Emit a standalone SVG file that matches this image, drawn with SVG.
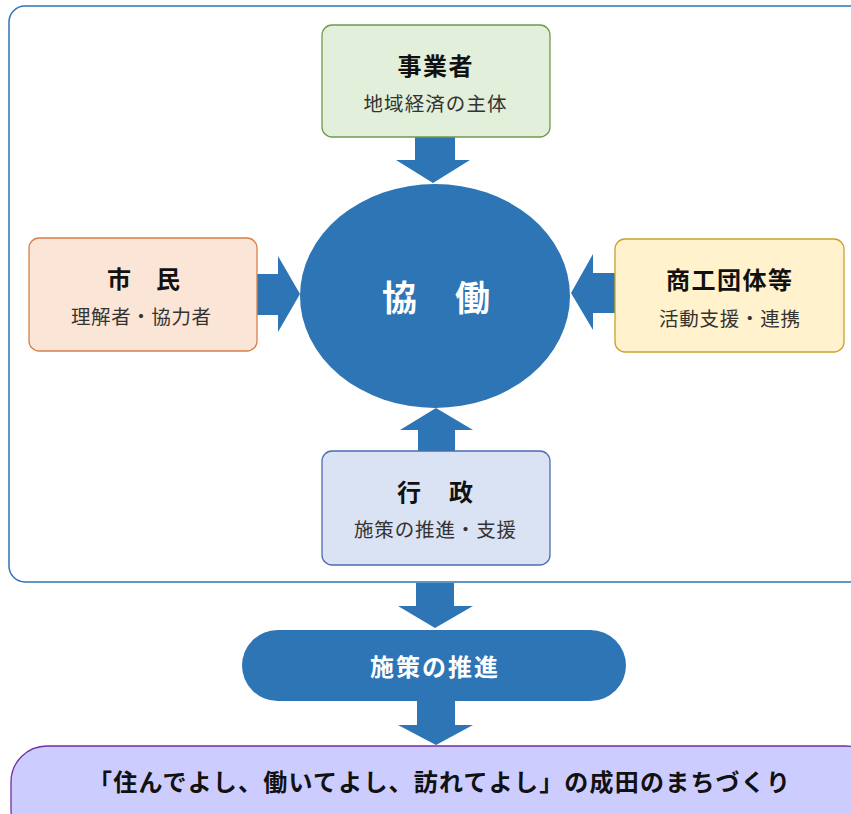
<svg xmlns="http://www.w3.org/2000/svg" width="851" height="814" viewBox="0 0 851 814">
<style>
text{font-family:"Noto Sans CJK JP","Noto Sans",sans-serif;text-anchor:middle;dominant-baseline:central}
.t{font-size:24px;font-weight:bold;fill:#111}
.s{font-size:19.5px;fill:#333}
.w{fill:#fff;font-weight:bold}
.arr{fill:#2E75B6}
</style>
<rect x="9" y="6" width="870" height="576" rx="16" fill="#fff" stroke="#2E75B6" stroke-width="1.5"/>
<g id="connectors" class="arr">
<polygon points="415,137 455,137 455,160 470,160 433,183 396,160 415,160"/>
<polygon points="257,274 278,274 278,256 300,294 278,332 278,315 257,315"/>
<polygon points="615,273 593,273 593,254 571,293 593,330 593,313 615,313"/>
<polygon points="418,451 455,451 455,430 473,430 436,408 400,430 418,430"/>
<polygon points="416,583 454,583 454,606 473,606 435,628 398,606 416,606"/>
<polygon points="417,701 455,701 455,725 473,725 436,745 398,725 417,725"/>
</g>
<g id="jigyosha">
<rect x="322" y="25" width="228" height="112" rx="10" fill="#E2EFDA" stroke="#6F9A4C" stroke-width="1.3"/>
<text class="t" x="435" y="64" textLength="75">事業者</text>
<text class="s" x="435" y="102" textLength="143">地域経済の主体</text>
</g>
<g id="kyodo">
<ellipse cx="435" cy="296" rx="135" ry="112" fill="#2E75B6"/>
<text class="w" x="436" y="295" font-size="35" textLength="108">協　働</text>
</g>
<g id="shimin">
<rect x="29" y="238" width="228" height="113" rx="10" fill="#FBE5D6" stroke="#D9804A" stroke-width="1.3"/>
<text class="t" x="143.5" y="277" textLength="73">市　民</text>
<text class="s" x="141" y="315" textLength="140">理解者・協力者</text>
</g>
<g id="shoko">
<rect x="615" y="239" width="229" height="113" rx="10" fill="#FFF2CC" stroke="#C9A227" stroke-width="1.3"/>
<text class="t" x="729" y="278" textLength="126">商工団体等</text>
<text class="s" x="729.5" y="317" textLength="141">活動支援・連携</text>
</g>
<g id="gyosei">
<rect x="322" y="451" width="228" height="114" rx="10" fill="#DAE3F3" stroke="#4A6DB0" stroke-width="1.3"/>
<text class="t" x="435" y="490" textLength="76">行　政</text>
<text class="s" x="435" y="528" textLength="162">施策の推進・支援</text>
</g>
<g id="suishin">
<rect x="242" y="630" width="384" height="71" rx="35.5" fill="#2E75B6"/>
<text class="w" x="434" y="665" font-size="24" textLength="128">施策の推進</text>
</g>
<g id="machizukuri">
<rect x="11" y="746" width="870" height="100" rx="36" fill="#CCCCFF" stroke="#7030A0" stroke-width="1.3"/>
<text class="t" x="439" y="780" font-size="25" textLength="702">「住んでよし、働いてよし、訪れてよし」の成田のまちづくり</text>
</g>
</svg>
